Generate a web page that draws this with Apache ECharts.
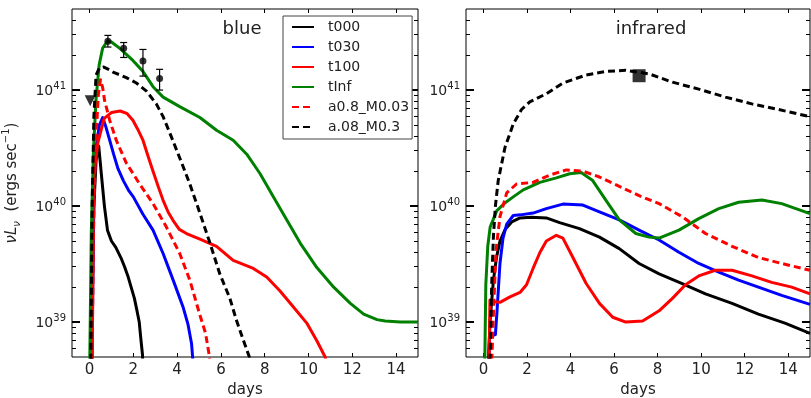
<!DOCTYPE html>
<html><head><meta charset="utf-8">
<script src="https://cdn.jsdelivr.net/npm/echarts@6/dist/echarts.min.js"></script>
<style>html,body{margin:0;padding:0;background:#fff}#c{width:811px;height:398px}</style>
</head><body><div id="c"></div>
<script>
// ---------- labels / ticks ----------
const seriesNames = ['t000', 't030', 't100', 'tInf', 'a0.8_M0.03', 'a.08_M0.3'];
const panelTitles = ['blue', 'infrared'];
const xTicks = [0, 2, 4, 6, 8, 10, 12, 14];
const yMajor = [1e39, 1e40, 1e41];
const yMinor = [6e38, 7e38, 8e38, 9e38,
  2e39, 3e39, 4e39, 5e39, 6e39, 7e39, 8e39, 9e39,
  2e40, 3e40, 4e40, 5e40, 6e40, 7e40, 8e40, 9e40,
  2e41, 3e41, 4e41];
const xRange = [-0.8, 15];
const yRange = [5e38, 5e41];

// ---------- blue panel ----------
const blueT000 = [[0.05,3e38],[0.2,1.0e40],[0.3,2.5e40],[0.42,3.3e40],[0.55,1.8e40],[0.68,1.0e40],[0.82,6.2e39],[1.0,5.0e39],[1.2,4.4e39],[1.43,3.6e39],[1.6,3.0e39],[1.75,2.5e39],[1.9,2.0e39],[2.05,1.6e39],[2.15,1.3e39],[2.27,1.0e39],[2.35,7e38],[2.42,5.2e38],[2.46,3e38]];
const blueT030 = [[0.1,3e38],[0.2,1.5e40],[0.3,3.2e40],[0.45,5.0e40],[0.6,5.8e40],[0.75,4.8e40],[0.92,3.7e40],[1.1,2.8e40],[1.3,2.1e40],[1.55,1.65e40],[1.8,1.35e40],[2.0,1.2e40],[2.44,8.5e39],[2.9,6.2e39],[3.36,3.9e39],[3.82,2.3e39],[4.27,1.35e39],[4.5,9.5e38],[4.66,6.5e38],[4.8,3e38]];
const blueT100 = [[0.12,3e38],[0.18,1.7e40],[0.38,3.5e40],[0.67,5.7e40],[1.0,6.4e40],[1.4,6.6e40],[1.7,6.3e40],[1.98,5.5e40],[2.2,4.6e40],[2.44,3.7e40],[2.7,2.6e40],[2.9,2.0e40],[3.15,1.45e40],[3.36,1.12e40],[3.6,8.8e39],[3.82,7.5e39],[4.1,6.3e39],[4.43,5.8e39],[5.04,5.2e39],[5.8,4.5e39],[6.56,3.4e39],[7.48,2.9e39],[8.09,2.45e39],[8.7,1.85e39],[9.31,1.35e39],[9.92,9.8e38],[10.38,6.9e38],[10.76,5e38],[10.85,4e38]];
const blueTInf = [[0.0,3e38],[0.08,5.8e39],[0.18,3.0e40],[0.3,8.5e40],[0.44,1.65e41],[0.6,2.3e41],[0.82,2.65e41],[1.0,2.6e41],[1.37,2.3e41],[1.98,1.8e41],[2.44,1.45e41],[2.9,1.07e41],[3.36,8.7e40],[4.12,7.2e40],[5.04,5.8e40],[5.8,4.5e40],[6.56,3.7e40],[7.18,2.8e40],[7.79,1.9e40],[8.4,1.2e40],[9.01,7.6e39],[9.62,4.8e39],[10.38,2.95e39],[11.15,2.0e39],[11.91,1.45e39],[12.52,1.17e39],[13.13,1.05e39],[13.5,1.02e39],[14.2,1.0e39],[15.0,1.0e39]];
const blueA08M003 = [[0.1,3e38],[0.2,1.0e40],[0.3,4.0e40],[0.4,9e40],[0.5,1.23e41],[0.6,1.05e41],[0.69,8.1e40],[0.92,5.5e40],[1.22,3.7e40],[1.68,2.35e40],[2.29,1.55e40],[2.9,1.05e40],[3.51,6.6e39],[4.12,3.9e39],[4.58,2.3e39],[5.04,1.15e39],[5.3,8.0e38],[5.45,5.4e38],[5.55,4e38]];
const blueA08M03 = [[0.05,3e38],[0.12,1e40],[0.2,6e40],[0.3,1.35e41],[0.45,1.55e41],[0.65,1.58e41],[0.9,1.5e41],[1.1,1.42e41],[1.4,1.35e41],[1.68,1.28e41],[2.14,1.15e41],[2.6,9.8e40],[3.05,7.6e40],[3.36,5.9e40],[3.66,4.3e40],[4.12,2.6e40],[4.58,1.55e40],[5.04,8.7e39],[5.5,4.8e39],[5.95,2.6e39],[6.41,1.6e39],[6.7,1.05e39],[7.0,7.2e38],[7.3,5e38],[7.4,4e38]];
// observed points: [day, value, low, high]
const blueObs = [[0.84,2.64e41,2.35e41,2.96e41],[1.56,2.29e41,1.91e41,2.57e41],[2.44,1.78e41,1.32e41,2.24e41],[3.2,1.26e41,1.0e41,1.51e41]];
const blueLimit = [[0.03,8.1e40]];

// ---------- infrared panel ----------
const irT000 = [[0.2,3e38],[0.3,1.0e39],[0.46,2.3e39],[0.6,3.6e39],[0.76,5.0e39],[1.0,6.3e39],[1.3,7.3e39],[1.68,7.9e39],[2.2,8.0e39],[2.89,7.9e39],[3.5,7.2e39],[4.41,6.4e39],[5.33,5.4e39],[6.24,4.3e39],[7.15,3.2e39],[8.07,2.6e39],[9.13,2.15e39],[10.2,1.75e39],[11.42,1.45e39],[12.63,1.17e39],[13.85,9.8e38],[15.0,8.0e38]];
const irT030 = [[0.22,3e38],[0.28,7.5e38],[0.35,7.8e38],[0.55,7.8e38],[0.62,1.2e39],[0.76,3.2e39],[0.9,5.3e39],[1.07,7.0e39],[1.37,8.3e39],[1.7,8.4e39],[2.28,8.7e39],[2.89,9.5e39],[3.65,1.04e40],[4.57,1.02e40],[5.33,8.9e39],[6.24,7.6e39],[7.15,6.2e39],[8.07,5.1e39],[8.98,4.0e39],[9.89,3.2e39],[10.81,2.7e39],[11.72,2.3e39],[12.63,2.0e39],[13.7,1.7e39],[15.0,1.42e39]];
const irT100 = [[0.25,3e38],[0.3,1.55e39],[0.5,1.5e39],[0.76,1.48e39],[1.22,1.65e39],[1.68,1.8e39],[1.98,2.1e39],[2.28,2.9e39],[2.6,4.0e39],[2.89,5.0e39],[3.35,5.6e39],[3.65,5.3e39],[4.11,3.6e39],[4.72,2.15e39],[5.33,1.45e39],[5.94,1.1e39],[6.54,1.0e39],[7.31,1.02e39],[8.07,1.25e39],[8.68,1.6e39],[9.28,2.1e39],[9.89,2.5e39],[10.65,2.8e39],[11.42,2.8e39],[12.33,2.5e39],[13.24,2.2e39],[14.16,2.0e39],[15.0,1.75e39]];
const irTInf = [[0.05,3e38],[0.11,2.1e39],[0.2,4.5e39],[0.31,6.6e39],[0.61,9.1e39],[1.0,1.07e40],[1.37,1.2e40],[1.83,1.38e40],[2.59,1.6e40],[3.35,1.75e40],[3.96,1.9e40],[4.49,1.95e40],[5.02,1.66e40],[5.63,1.12e40],[6.24,7.6e39],[7.0,5.8e39],[7.6,5.4e39],[8.07,5.3e39],[8.98,6.2e39],[9.89,7.8e39],[10.81,9.5e39],[11.72,1.08e40],[12.79,1.13e40],[13.7,1.05e40],[15.0,8.6e39]];
const irA08M003 = [[0.35,3e38],[0.46,1.2e39],[0.58,4.2e39],[0.76,8.1e39],[1.07,1.3e40],[1.52,1.55e40],[2.28,1.6e40],[3.04,1.85e40],[3.81,2.05e40],[4.57,2.0e40],[5.33,1.78e40],[6.24,1.48e40],[7.15,1.23e40],[8.07,1.05e40],[9.13,8.1e39],[10.2,5.8e39],[11.42,4.5e39],[12.63,3.6e39],[13.85,3.15e39],[15.0,2.8e39]];
const irA08M03 = [[0.28,3e38],[0.38,2.1e39],[0.46,5.5e39],[0.55,1.0e40],[0.68,1.66e40],[0.99,3.2e40],[1.37,5.1e40],[1.75,6.8e40],[2.13,7.9e40],[2.89,9.3e40],[3.65,1.15e41],[4.72,1.35e41],[5.63,1.45e41],[6.54,1.48e41],[7.61,1.38e41],[8.68,1.17e41],[9.89,1.02e41],[11.11,8.7e40],[12.33,7.6e40],[13.55,6.8e40],[15.0,5.9e40]];
const irObs = [[7.15,1.33e41]];

// ---------- styles ----------
const colors = ['#000000', '#0000ff', '#ff0000', '#008000', '#ff0000', '#000000'];
const dashed = [false, false, false, false, true, true];
const FONT = 'DejaVu Sans';

function supLabel(v) {
  const e = Math.round(Math.log10(v));
  return '{b|10}{s|' + e + '}';
}
const labelRich = {
  b: { fontSize: 14, lineHeight: 17, verticalAlign: 'bottom', fontFamily: FONT, color: '#222' },
  s: { fontSize: 10, lineHeight: 10, padding: [0, 0, 7, 0], verticalAlign: 'bottom', fontFamily: FONT, color: '#222' }
};

function xAx(grid, pos) {
  const bottom = pos === 'bottom';
  return {
    type: 'value', gridIndex: grid, position: pos, min: xRange[0], max: xRange[1],
    axisLine: { show: false, onZero: false }, splitLine: { show: false },
    axisTick: { show: true, inside: true, length: 4, customValues: xTicks, lineStyle: { color: '#000', width: 1 } },
    axisLabel: { show: bottom, customValues: xTicks, margin: 6, fontSize: 15, fontFamily: FONT, color: '#222' },
    name: bottom ? 'days' : '', nameLocation: 'middle', nameGap: 21,
    nameTextStyle: { fontSize: 15, fontFamily: FONT, color: '#222' }
  };
}
function yAx(grid, pos, major, labels, withName) {
  const o = {
    type: 'log', logBase: 10, gridIndex: grid, position: pos, min: yRange[0], max: yRange[1],
    axisLine: { show: false, onZero: false }, splitLine: { show: false }, minorTick: { show: false },
    axisTick: { show: true, inside: true, length: major ? 8 : 4, customValues: major ? yMajor : yMinor,
      lineStyle: { color: '#000', width: major ? 2 : 1 } },
    axisLabel: { show: labels, customValues: yMajor, margin: 6, formatter: supLabel, rich: labelRich }
  };
  if (withName) {
    o.name = '{i|\u03bdL}{sub|\u03bd}{n|  (ergs sec}{sup|\u22121}{n|)}';
    o.nameLocation = 'middle';
    o.nameGap = 50;
    o.nameRotate = 90;
    o.nameTextStyle = {
      rich: {
        i: { fontSize: 15, fontStyle: 'italic', fontFamily: FONT, color: '#222', lineHeight: 20, verticalAlign: 'bottom', padding: [0,0,2,0] },
        sub: { fontSize: 10, fontStyle: 'italic', fontFamily: FONT, color: '#222', lineHeight: 12, verticalAlign: 'bottom' },
        n: { fontSize: 15, fontFamily: FONT, color: '#222', lineHeight: 20, verticalAlign: 'bottom', padding: [0,0,2,0] },
        sup: { fontSize: 10, fontFamily: FONT, color: '#222', lineHeight: 10, verticalAlign: 'bottom', padding: [0,0,11,0] }
      }
    };
  }
  return o;
}

const grids = [
  { left: 72, top: 9, width: 346, height: 348, show: true, borderColor: '#000', borderWidth: 1, backgroundColor: 'transparent', containLabel: false, outerBoundsMode: 'none' },
  { left: 466, top: 9, width: 344, height: 348, show: true, borderColor: '#000', borderWidth: 1, backgroundColor: 'transparent', containLabel: false, outerBoundsMode: 'none' }
];
const xAxes = [xAx(0, 'bottom'), xAx(0, 'top'), xAx(1, 'bottom'), xAx(1, 'top')];
const yAxes = [
  yAx(0, 'left', true, true, true), yAx(0, 'left', false, false), yAx(0, 'right', true, false), yAx(0, 'right', false, false),
  yAx(1, 'left', true, true, false), yAx(1, 'left', false, false), yAx(1, 'right', true, false), yAx(1, 'right', false, false)
];

const panelData = [
  [blueT000, blueT030, blueT100, blueTInf, blueA08M003, blueA08M03],
  [irT000, irT030, irT100, irTInf, irA08M003, irA08M03]
];

const series = [];
panelData.forEach(function (sets, p) {
  sets.forEach(function (d, i) {
    series.push({
      type: 'line', name: seriesNames[i], data: d,
      xAxisIndex: p * 2, yAxisIndex: p * 4,
      symbol: 'none', smooth: false, clip: true,
      lineStyle: { color: colors[i], width: 3, type: dashed[i] ? [7, 4] : 'solid', cap: 'butt', join: 'round' },
      itemStyle: { color: colors[i] },
      emphasis: { disabled: true }, animation: false, z: 2 + i
    });
  });
});
// error bars on the blue panel
series.push({
  type: 'custom', xAxisIndex: 0, yAxisIndex: 0, z: 20, animation: false,
  data: blueObs.map(function (r) { return [r[0], r[2], r[3]]; }),
  encode: { x: 0, y: [1, 2] },
  renderItem: function (params, api) {
    const x = api.value(0);
    const lo = api.coord([x, api.value(1)]);
    const hi = api.coord([x, api.value(2)]);
    const w = 3.5, st = { stroke: '#000', lineWidth: 1.2 };
    return { type: 'group', children: [
      { type: 'line', shape: { x1: lo[0], y1: lo[1], x2: hi[0], y2: hi[1] }, style: st },
      { type: 'line', shape: { x1: lo[0] - w, y1: lo[1], x2: lo[0] + w, y2: lo[1] }, style: st },
      { type: 'line', shape: { x1: hi[0] - w, y1: hi[1], x2: hi[0] + w, y2: hi[1] }, style: st }
    ] };
  }
});
series.push({
  type: 'scatter', xAxisIndex: 0, yAxisIndex: 0, z: 21, animation: false,
  data: blueObs.map(function (r) { return [r[0], r[1]]; }),
  symbol: 'circle', symbolSize: 7, itemStyle: { color: '#000' }
});
series.push({
  type: 'scatter', xAxisIndex: 0, yAxisIndex: 0, z: 21, animation: false,
  data: blueLimit, symbol: 'triangle', symbolRotate: 180, symbolSize: 11, itemStyle: { color: '#000' }
});
series.push({
  type: 'scatter', xAxisIndex: 2, yAxisIndex: 4, z: 21, animation: false,
  data: irObs, symbol: 'rect', symbolSize: 13, itemStyle: { color: '#000' }
});

const option = {
  backgroundColor: '#fff',
  animation: false,
  grid: grids,
  xAxis: xAxes,
  yAxis: yAxes,
  legend: {
    data: seriesNames, orient: 'vertical', left: 283, top: 16,
    padding: [4, 3, 5, 8], itemWidth: 22, itemHeight: 14, itemGap: 6,
    borderColor: '#444', borderWidth: 1, backgroundColor: '#fff',
    selectedMode: false,
    textStyle: { fontSize: 14, fontFamily: FONT, color: '#222', padding: [0, 0, 0, 9], lineHeight: 14 },
    itemStyle: { opacity: 0 }
  },
  graphic: [
    { type: 'text', x: 242, y: 29, style: { text: panelTitles[0], fontSize: 18, fontFamily: FONT, fill: '#222', align: 'center', verticalAlign: 'middle' } },
    { type: 'text', x: 651, y: 29, style: { text: panelTitles[1], fontSize: 18, fontFamily: FONT, fill: '#222', align: 'center', verticalAlign: 'middle' } }
  ],
  series: series
};
const chart = echarts.init(document.getElementById('c'), null, { renderer: 'canvas' });
chart.setOption(option);
</script></body></html>
